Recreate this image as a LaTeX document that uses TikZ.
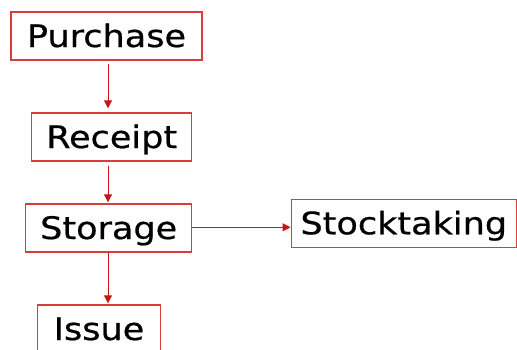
\documentclass[tikz,border=0pt]{standalone}
\usepackage{fontspec}
\newfontfamily\boxfont[FakeStretch=1.13,FakeBold=0.6]{DejaVu Sans}
\usetikzlibrary{arrows.meta}
\definecolor{boxred}{RGB}{218,60,60}
\definecolor{linkred}{RGB}{200,20,20}
\begin{document}
\begin{tikzpicture}[x=1pt,y=-1pt,
  stage/.style={draw=boxred,line width=1.4pt,fill=white,inner sep=0pt,
    minimum height=48pt,text height=22pt,text depth=0pt,
    font=\boxfont\fontsize{31}{37}\selectfont},
  link/.style={draw=linkred,line width=1pt,-{Triangle[length=8pt,width=8pt]}}]
\useasboundingbox (0,0) rectangle (517,349);
% process stages
\node[stage,minimum width=191pt] (purchase) at (106.5,36) {Purchase};
\node[stage,minimum width=160pt] (receipt) at (111.7,137) {Receipt};
\node[stage,minimum width=166pt] (storage) at (108.7,228) {Storage};
\node[stage,minimum width=225pt] (stock) at (403.8,223.3) {Stocktaking};
\node[stage,minimum width=123pt] (issue) at (99,329) {Issue};
% vertical flow column
\coordinate (col) at (108,0);
\draw[link,shorten <=3pt,shorten >=4pt] (purchase.south -| col) -- (receipt.north -| col);
\draw[link,shorten <=4pt,shorten >=1pt] (receipt.south -| col) -- (storage.north -| col);
\draw[link,shorten >=1pt] (storage.south -| col) -- (issue.north -| col);
\draw[link] (storage.east |- 0,227.3) -- (stock.west |- 0,227.3);
\end{tikzpicture}
\end{document}
